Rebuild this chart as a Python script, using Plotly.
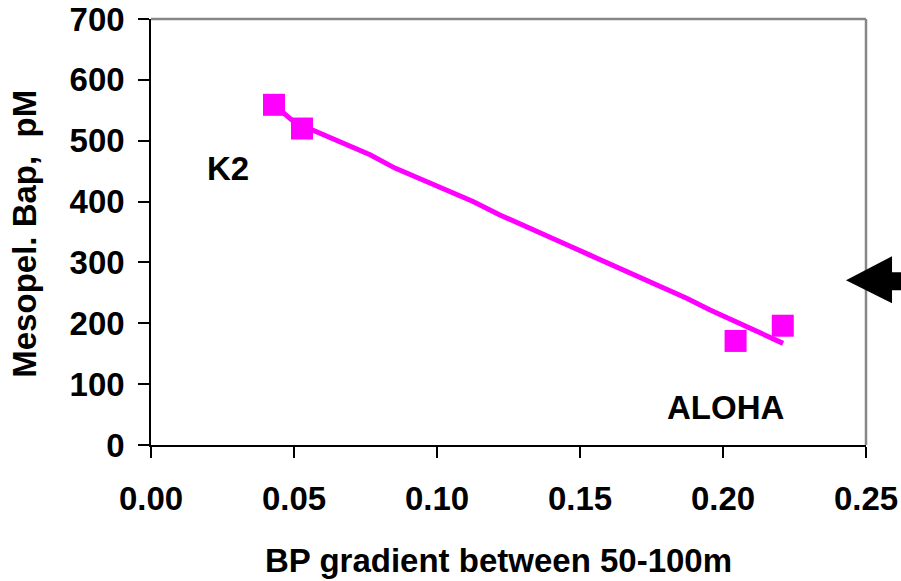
import plotly.graph_objects as go

# Observed stations
bp_gradient = [0.0430, 0.0528, 0.2044, 0.2209]
bap_pm = [559, 520, 171, 196]

# Fitted curve
fit_x = [0.0430, 0.0528, 0.0562, 0.0766, 0.0853, 0.1034, 0.1126, 0.1220, 0.1384,
         0.1454, 0.1535, 0.1650, 0.1768, 0.1873, 0.1955, 0.2070, 0.2210]
fit_y = [559, 520, 518, 477, 455, 419, 400, 378, 345,
         329, 312, 288, 263, 241, 222, 197, 167]

x_ticks = [0.00, 0.05, 0.10, 0.15, 0.20, 0.25]
y_ticks = [0, 100, 200, 300, 400, 500, 600, 700]

labels = ["K2", "ALOHA"]
label_x = [0.0268, 0.2007]
label_y = [454, 61]

MAG = "#FF00FF"
FONT = "Liberation Sans, Arial, sans-serif"

fig = go.Figure()
fig.add_trace(go.Scatter(x=fit_x, y=fit_y, mode="lines",
                         line=dict(color=MAG, width=5), hoverinfo="skip"))
fig.add_trace(go.Scatter(x=bp_gradient, y=bap_pm, mode="markers",
                         marker=dict(symbol="square", size=22, color=MAG)))

for t, lx, ly in zip(labels, label_x, label_y):
    fig.add_annotation(x=lx, y=ly, text="<b>%s</b>" % t, showarrow=False,
                       font=dict(family=FONT, size=33, color="black"),
                       xanchor="center", yanchor="middle")

fig.add_annotation(xref="paper", yref="paper", x=0.4867, y=-0.2714,
                   text="<b>BP gradient between 50-100m</b>", showarrow=False,
                   font=dict(family=FONT, size=33, color="black"),
                   xanchor="center", yanchor="middle")
fig.add_annotation(xref="paper", yref="paper", x=-0.1762, y=0.496,
                   text="<b>Mesopel. Bap,\u00a0 pM</b>", showarrow=False, textangle=-90,
                   font=dict(family=FONT, size=33, color="black"),
                   xanchor="center", yanchor="middle")

# top and right gray frame
fig.add_shape(type="line", xref="paper", yref="paper", x0=0, x1=1, y0=1, y1=1,
              line=dict(color="#878787", width=2.5))
fig.add_shape(type="line", xref="paper", yref="paper", x0=1, x1=1, y0=0, y1=1,
              line=dict(color="#878787", width=2.5))

# black arrow at right
fig.add_shape(type="path", xref="paper", yref="paper", layer="above",
              path="M 0.972 0.3866 L 1.0364 0.443 L 1.0364 0.4054 L 1.2 0.4054 "
                   "L 1.2 0.3631 L 1.0364 0.3631 L 1.0364 0.3326 Z",
              fillcolor="black", line=dict(color="black", width=0))

fig.update_xaxes(range=[0, 0.25], tickvals=x_ticks, tickformat=".2f",
                 ticks="outside", ticklen=11, tickwidth=1.5, tickcolor="black",
                 showline=True, linecolor="black", linewidth=1.5, automargin=False,
                 showgrid=False, zeroline=False, ticklabelstandoff=13,
                 tickfont=dict(family=FONT, size=33, color="black", weight="bold"))
fig.update_yaxes(range=[0, 700], tickvals=y_ticks,
                 ticks="outside", ticklen=11, tickwidth=1.5, tickcolor="black",
                 showline=True, linecolor="black", linewidth=1.5, automargin=False,
                 showgrid=False, zeroline=False, ticklabelstandoff=7,
                 tickfont=dict(family=FONT, size=33, color="black", weight="bold"))

fig.update_layout(width=901, height=581, showlegend=False,
                  plot_bgcolor="white", paper_bgcolor="white",
                  margin=dict(l=151, r=35, t=19, b=136))

fig.write_html("out.html")
